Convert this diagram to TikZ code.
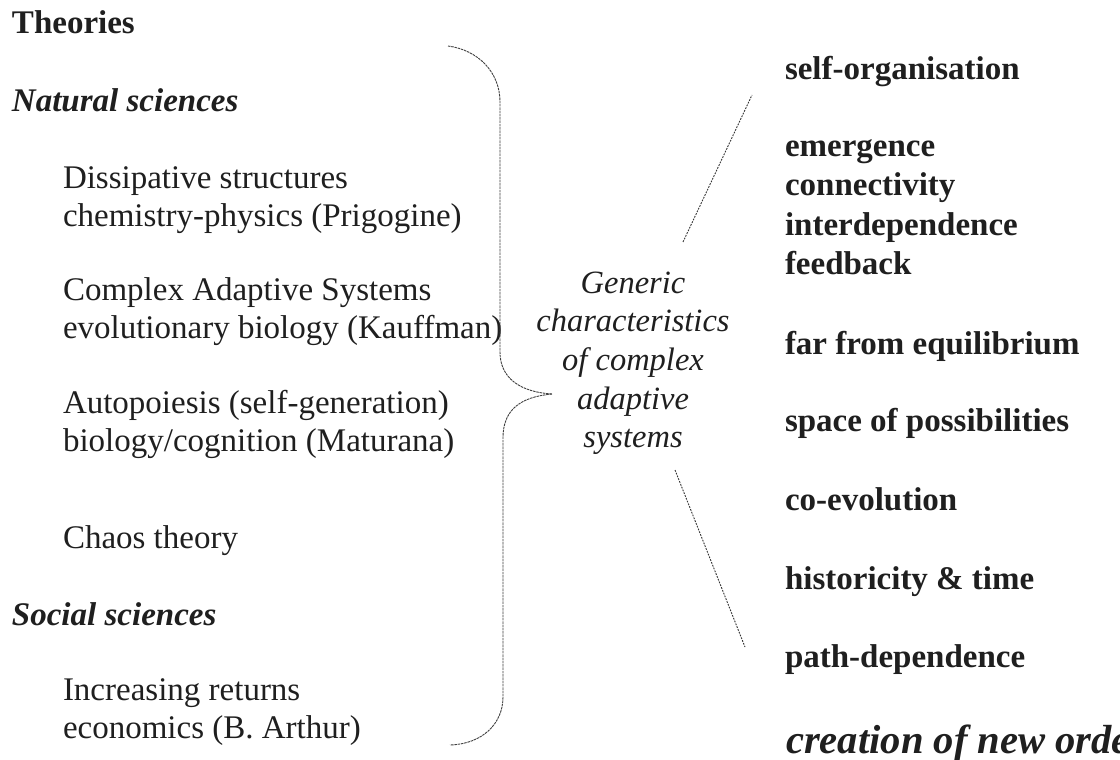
\documentclass[tikz,border=0pt]{standalone}
\usepackage{fontspec}
\setmainfont{Liberation Serif}
\begin{document}
\begin{tikzpicture}[x=1pt,y=-1pt,
  txt/.style={inner sep=0pt,outer sep=0pt,text=black!88,font=\fontsize{33}{39}\selectfont},
  lft/.style={txt,anchor=base west},
  ctr/.style={txt,anchor=base,font=\fontsize{32.5}{39}\selectfont\itshape},
  hd/.style={lft,font=\fontsize{33}{39}\selectfont\bfseries\itshape},
  rt/.style={lft,font=\fontsize{33}{39}\selectfont\bfseries},
  dline/.style={draw=black!80,line width=0.9pt,dash pattern=on 1.8pt off 1.2pt},
  bline/.style={draw=black!75,line width=0.9pt,dash pattern=on 2.5pt off 0.8pt}
]
\useasboundingbox (0,0) rectangle (1120,760);
\clip (0,0) rectangle (1120,760);
\fill[white] (0,0) rectangle (1120,760);

% left column
\node[rt] (theo) at (12,34) {Theories};
\node[hd] (nat) at (12,111) {Natural sciences};
\node[lft] (d1) at (63,188) {Dissipative structures};
\node[lft] (d2) at (63,226) {chemistry-physics (Prigogine)};
\node[lft] (c1) at (63,300) {Complex Adaptive Systems};
\node[lft] (c2) at (63,338) {evolutionary biology (Kauffman)};
\node[lft] (a1) at (63,413) {Autopoiesis (self-generation)};
\node[lft] (a2) at (63,451) {biology/cognition (Maturana)};
\node[lft] (ch) at (63,548) {Chaos theory};
\node[hd] (soc) at (12,625) {Social sciences};
\node[lft] (i1) at (63,700) {Increasing returns};
\node[lft] (i2) at (63,738) {economics (B. Arthur)};

% centre
\node[ctr] (g1) at (633,293) {Generic};
\node[ctr] (g2) at (633,331) {characteristics};
\node[ctr] (g3) at (633,370) {of complex};
\node[ctr] (g4) at (633,409) {adaptive};
\node[ctr] (g5) at (633,447) {systems};

% right column
\node[rt] (r1) at (785,80) {self-organisation};
\node[rt] (r2) at (785,156) {emergence};
\node[rt] (r3) at (785,195) {connectivity};
\node[rt] (r4) at (785,235) {interdependence};
\node[rt] (r5) at (785,274) {feedback};
\node[rt] (r6) at (785,354) {far from equilibrium};
\node[rt] (r7) at (785,431) {space of possibilities};
\node[rt] (r8) at (785,510) {co-evolution};
\node[rt] (r9) at (785,589) {historicity \& time};
\node[rt] (r10) at (785,667) {path-dependence};
\node[lft,font=\fontsize{40.6}{46}\selectfont\bfseries\itshape] (r11) at (786,753) {creation of new order};

% brace
\coordinate (btop) at (448,46);
\coordinate (btip) at (552,394);
\coordinate (bbot) at (450,745);
\draw[bline] (btop) .. controls (478,50) and (500,72) .. (500,102)
  -- (500,352) .. controls (500,378) and (520,392) .. (btip);
\draw[bline] (btip) .. controls (520,397) and (503,410) .. (503,438)
  -- (503,697) .. controls (503,724) and (482,744) .. (bbot);

% dotted lines
\coordinate (u1) at (683,242);
\coordinate (u2) at (752,95);
\coordinate (l1) at (675,470);
\coordinate (l2) at (745,647);
\draw[dline] (u1) -- (u2);
\draw[dline] (l1) -- (l2);
\end{tikzpicture}
\end{document}
